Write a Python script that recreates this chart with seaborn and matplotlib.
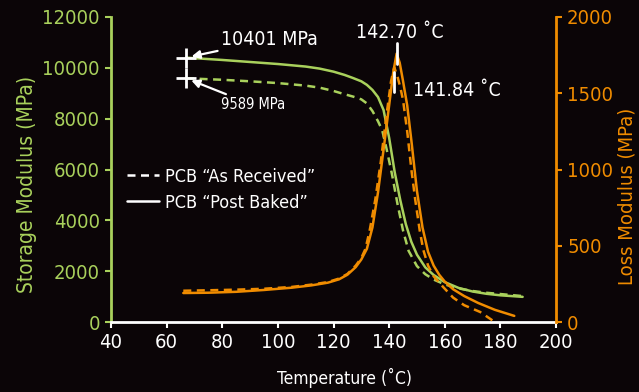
import matplotlib
matplotlib.use("Agg")
import matplotlib.pyplot as plt
from matplotlib.lines import Line2D
import seaborn as sns
import pandas as pd

# Storage modulus (MPa) vs temperature (°C)
post_storage_T = [67, 80, 90, 100, 110, 115, 120, 124, 127, 130, 132, 134, 136, 138, 140,
                  142, 144, 146, 148, 150, 153, 156, 160, 165, 170, 175, 180, 188]
post_storage = [10401, 10310, 10230, 10150, 10050, 9970, 9850, 9720, 9600, 9470, 9330, 9130,
                8850, 8340, 7250, 5900, 4800, 3850, 3150, 2650, 2150, 1850, 1570, 1340, 1200,
                1110, 1050, 990]

as_storage_T = [67, 80, 90, 100, 110, 115, 120, 124, 127, 130, 132, 134, 136, 137.5, 139,
                141, 143, 145, 147, 150, 153, 156, 160, 165, 170, 175, 180, 188]
as_storage = [9589, 9530, 9470, 9400, 9300, 9220, 9090, 8960, 8870, 8760, 8600, 8300, 7900,
              7550, 6850, 5830, 4650, 3600, 2800, 2200, 1880, 1670, 1480, 1320, 1220, 1150,
              1100, 1020]

# Loss modulus (MPa) vs temperature (°C)
post_loss_T = [66, 75, 85, 95, 105, 112, 118, 122, 125, 128, 130, 132, 134, 136, 138, 140,
               141.5, 142.7, 143.8, 145, 146.5, 148, 150, 152, 154, 156, 158, 160, 163, 167,
               172, 178, 185]
post_loss = [190, 192, 198, 210, 225, 240, 258, 280, 310, 360, 410, 480, 620, 850, 1130, 1420,
             1640, 1760, 1700, 1580, 1420, 1190, 860, 620, 460, 370, 310, 265, 215, 170, 125,
             80, 40]

as_loss_T = [66, 75, 85, 95, 105, 112, 118, 122, 125, 128, 130, 131.5, 133, 135, 137, 139,
             140.7, 141.84, 143, 144, 145, 146.5, 148, 149.4, 151, 152.3, 154, 156, 159.4, 163,
             167, 172.7, 178]
as_loss = [205, 208, 212, 218, 230, 245, 262, 285, 315, 370, 420, 480, 600, 800, 1050, 1350,
           1580, 1670, 1610, 1540, 1456, 1250, 1000, 800, 600, 472, 370, 300, 230, 160, 110,
           66, 0]

# Annotated values
start_T = 67
post_start_label = 10401
as_start_label = 9589
post_peak_T = 142.70
as_peak_T = 141.84

x_ticks = [40, 60, 80, 100, 120, 140, 160, 180, 200]
left_ticks = [0, 2000, 4000, 6000, 8000, 10000, 12000]
right_ticks = [0, 500, 1000, 1500, 2000]

BG = "#0b0507"
GREEN = "#a9d15c"
ORANGE = "#f08c00"
WHITE = "#ffffff"

sns.set_style("dark")
plt.rcParams["font.family"] = ["DejaVu Sans"]
plt.rcParams["font.stretch"] = "condensed"

fig = plt.figure(figsize=(6.39, 3.92), dpi=100, facecolor=BG)
ax = fig.add_axes([111 / 639, 1 - 322 / 392, 445 / 639, 305 / 392])
ax.set_facecolor(BG)
ax2 = ax.twinx()
ax2.patch.set_visible(False)

dash = (3.2, 2.2)
lw = 1.8

df_ps = pd.DataFrame({"T": post_storage_T, "E": post_storage})
df_as = pd.DataFrame({"T": as_storage_T, "E": as_storage})
df_pl = pd.DataFrame({"T": post_loss_T, "E": post_loss})
df_al = pd.DataFrame({"T": as_loss_T, "E": as_loss})

sns.lineplot(data=df_as, x="T", y="E", ax=ax, color=GREEN, lw=lw, dashes=False,
             linestyle=(0, dash), sort=False)
sns.lineplot(data=df_ps, x="T", y="E", ax=ax, color=GREEN, lw=lw, sort=False)
sns.lineplot(data=df_al, x="T", y="E", ax=ax2, color=ORANGE, lw=lw, dashes=False,
             linestyle=(0, dash), sort=False)
sns.lineplot(data=df_pl, x="T", y="E", ax=ax2, color=ORANGE, lw=lw, sort=False)

ax.set_xlim(40, 200)
ax.set_ylim(0, 12000)
ax2.set_ylim(0, 2000)
ax.set_xticks(x_ticks)
ax.set_yticks(left_ticks)
ax2.set_yticks(right_ticks)
ax.grid(False)
ax2.grid(False)

for a in (ax, ax2):
    for s in a.spines.values():
        s.set_visible(False)
ax.spines["left"].set_visible(True)
ax.spines["left"].set_color(GREEN)
ax.spines["left"].set_linewidth(2)
ax.spines["bottom"].set_visible(True)
ax.spines["bottom"].set_color(WHITE)
ax.spines["bottom"].set_linewidth(2)
ax2.spines["right"].set_visible(True)
ax2.spines["right"].set_color(ORANGE)
ax2.spines["right"].set_linewidth(2)

ax.tick_params(axis="x", colors=WHITE, labelsize=14.5, length=4, width=1.5, direction="out",
               pad=4, bottom=True)
ax.tick_params(axis="y", colors=GREEN, labelsize=14.5, length=4, width=1.5, direction="out",
               pad=4, left=True)
ax2.tick_params(axis="y", colors=ORANGE, labelsize=14.5, length=4, width=1.5, direction="out",
                pad=4, right=True)

ax.set_xlabel("Temperature (˚C)", color=WHITE, fontsize=12.5)
ax.set_ylabel("Storage Modulus (MPa)", color=GREEN, fontsize=15)
ax2.set_ylabel("Loss Modulus (MPa)", color=ORANGE, fontsize=14.5)
ax.xaxis.set_label_coords(0.524, -0.15)
ax.yaxis.set_label_coords(-0.166, 0.452)
ax2.yaxis.set_label_coords(1.139, 0.413)

# Start-value crosses and callouts
ax.plot([start_T], [post_start_label], marker="+", ms=15, mew=2, color=WHITE, zorder=5)
ax.plot([start_T], [as_start_label], marker="+", ms=15, mew=2, color=WHITE, zorder=5)
arrow = dict(arrowstyle="-|>", color=WHITE, lw=1.6, mutation_scale=12, shrinkA=0, shrinkB=4)
ax.annotate(f"{post_start_label} MPa", xy=(start_T, post_start_label),
            xytext=(79.5, 11100), color=WHITE, fontsize=14, va="center", ha="left",
            arrowprops=arrow)
ax.annotate(f"{as_start_label} MPa", xy=(start_T, as_start_label),
            xytext=(79.5, 8540), color=WHITE, fontsize=10.5, va="center", ha="left",
            arrowprops=arrow)

# Loss-peak markers and labels
post_peak = max(post_loss)
as_peak = max(as_loss)
ax2.plot([post_peak_T, post_peak_T], [post_peak - 70, post_peak + 70], color=WHITE, lw=2,
         zorder=6)
ax2.plot([as_peak_T, as_peak_T], [as_peak - 160, as_peak - 30], color=WHITE, lw=2, zorder=6)
ax2.text(144.0, 1900, f"{post_peak_T:.2f} ˚C", color=WHITE, fontsize=14, ha="center",
         va="center")
ax2.text(148.6, 1515, f"{as_peak_T:.2f} ˚C", color=WHITE, fontsize=14, ha="left",
         va="center")

handles = [Line2D([], [], color=WHITE, lw=lw, linestyle=(0, dash)),
           Line2D([], [], color=WHITE, lw=lw)]
leg = ax.legend(handles, ["PCB “As Received”", "PCB “Post Baked”"], loc="upper left",
                bbox_to_anchor=(0.019, 0.53), frameon=False, fontsize=13, labelcolor=WHITE,
                handlelength=1.8, handletextpad=0.3, labelspacing=0.45, borderaxespad=0)

fig.savefig("out.png", dpi=100, facecolor=BG)
